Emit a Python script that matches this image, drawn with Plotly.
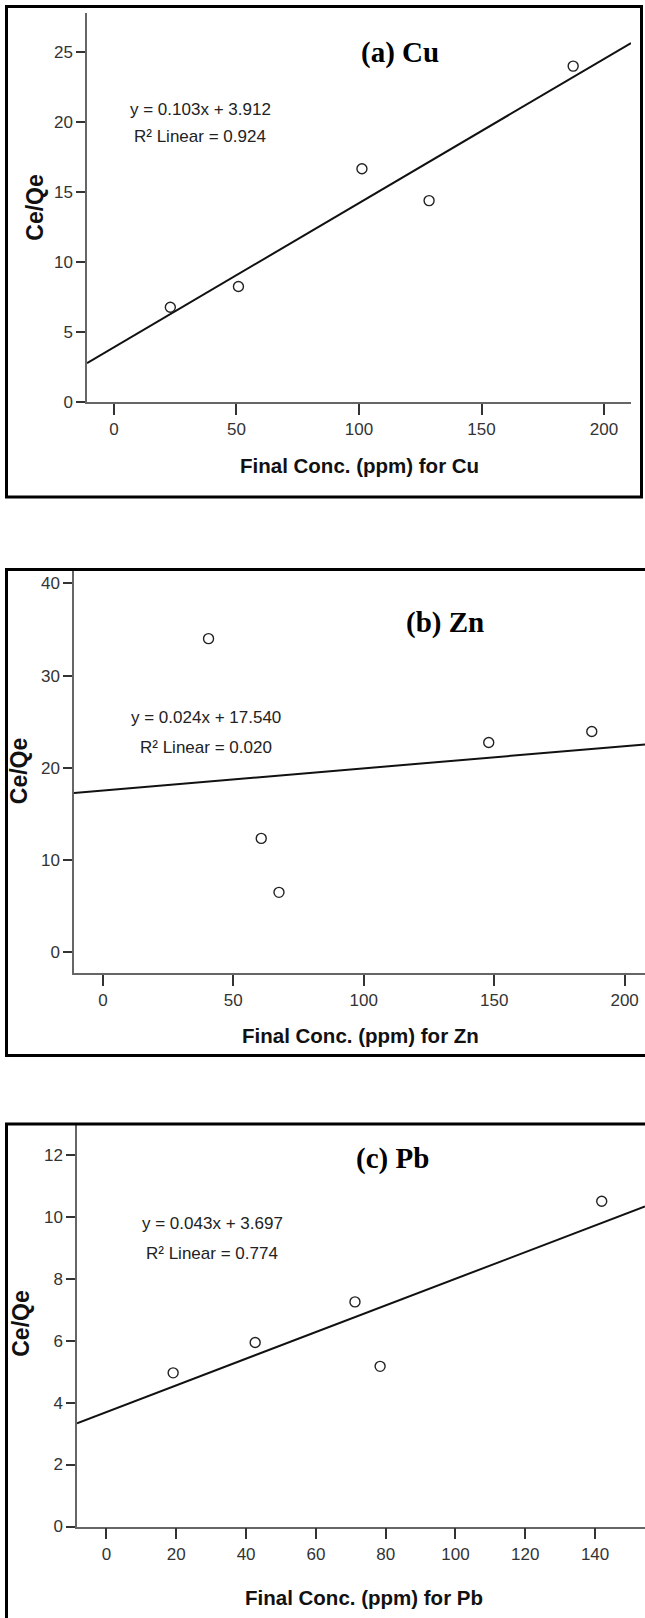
import plotly.graph_objects as go

# ---------------- data ----------------
panel_titles = ["(a) Cu", "(b) Zn", "(c) Pb"]
x_titles = ["Final Conc. (ppm) for Cu", "Final Conc. (ppm) for Zn", "Final Conc. (ppm) for Pb"]
y_title = "Ce/Qe"

cu_x = [23.0, 50.8, 101.2, 128.6, 187.4]
cu_y = [6.77, 8.25, 16.67, 14.39, 24.0]
zn_x = [40.5, 60.7, 67.5, 147.9, 187.4]
zn_y = [34.0, 12.35, 6.50, 22.74, 23.94]
pb_x = [19.1, 42.6, 71.2, 78.4, 141.9]
pb_y = [4.96, 5.94, 7.25, 5.17, 10.5]

slopes = [0.103, 0.024, 0.043]
intercepts = [3.912, 17.540, 3.697]
r2_values = ["0.924", "0.020", "0.774"]

x_ticks = [[0, 50, 100, 150, 200], [0, 50, 100, 150, 200], [0, 20, 40, 60, 80, 100, 120, 140]]
y_ticks = [[0, 5, 10, 15, 20, 25], [0, 10, 20, 30, 40], [0, 2, 4, 6, 8, 10, 12]]
x_ranges = [[-11.0, 211.0], [-11.07, 207.8], [-8.45, 154.3]]
y_ranges = [[0, 27.8], [-2.27, 41.5], [0, 12.96]]

# ---------------- layout (pixels) ----------------
W, H = 645, 1618
def px(x): return x / W
def py(y): return 1 - y / H

plot_boxes = [  # x0, x1, ytop, ybottom (pixels)
    (87, 631, 13, 404.5),
    (74, 645, 573, 979.3),
    (77, 645, 1132, 1536),
]
frames = [  # outer black frames
    (6.5, 641.5, 6.5, 500),
    (6.5, 680, 573, 1062),
    (6.5, 680, 1131, 1680),
]
title_pos = [(400, 53), (445, 626), (393, 1166)]
eq_pos = [(200, 110, 137), (206, 722, 752), (212, 1231, 1261)]
ytitle_pos = [(35, 209), (19, 776), (21, 1332)]
xtitle_pos = [(359, 468), (361, 1042), (364, 1607)]

data_x = [cu_x, zn_x, pb_x]
data_y = [cu_y, zn_y, pb_y]

tick_font = dict(family="Liberation Sans, Arial", size=17, color="#333")
eq_font = dict(family="Liberation Sans, Arial", size=17, color="#222")

fig = go.Figure()
layout = dict(width=W, height=H, margin=dict(l=0, r=0, t=0, b=0),
              paper_bgcolor="white", plot_bgcolor="white", showlegend=False,
              shapes=[], annotations=[])

for i in range(3):
    n = "" if i == 0 else str(i + 1)
    xa, ya = "x" + n, "y" + n
    x0, x1, yt, yb = plot_boxes[i]
    layout["xaxis" + n] = dict(domain=[px(x0), px(x1)], range=x_ranges[i], anchor=ya,
                               showline=True, linecolor="#666", linewidth=1.5,
                               ticks="outside", ticklen=11, tickwidth=2, tickcolor="#333",
                               tickvals=x_ticks[i], tickfont=tick_font,
                               showgrid=False, zeroline=False, fixedrange=True)
    layout["yaxis" + n] = dict(domain=[py(yb), py(yt)], range=y_ranges[i], anchor=xa,
                               showline=True, linecolor="#666", linewidth=1.5,
                               ticks="outside", ticklen=9, tickwidth=2, tickcolor="#333",
                               tickvals=y_ticks[i], tickfont=tick_font,
                               showgrid=False, zeroline=False, fixedrange=True)
    # regression line across the axis range
    lx = x_ranges[i]
    ly = [slopes[i] * v + intercepts[i] for v in lx]
    fig.add_trace(go.Scatter(x=lx, y=ly, mode="lines", xaxis=xa, yaxis=ya,
                             line=dict(color="#111", width=2), hoverinfo="skip"))
    fig.add_trace(go.Scatter(x=data_x[i], y=data_y[i], mode="markers", xaxis=xa, yaxis=ya,
                             marker=dict(symbol="circle-open", size=10, color="#222",
                                         line=dict(width=1.4, color="#222"))))
    fx0, fx1, fy0, fy1 = frames[i]
    layout["shapes"].append(dict(type="rect", xref="paper", yref="paper",
                                 x0=px(fx0), x1=px(fx1), y0=py(fy1), y1=py(fy0),
                                 line=dict(color="black", width=3), layer="above"))
    tx, ty = title_pos[i]
    layout["annotations"].append(dict(text="<b>" + panel_titles[i] + "</b>", xref="paper", yref="paper",
                                      x=px(tx), y=py(ty), xanchor="center", yanchor="middle",
                                      showarrow=False,
                                      font=dict(family="Liberation Serif, Times New Roman, serif", size=29, color="black")))
    ex, ey1, ey2 = eq_pos[i]
    eq = "y = %.3fx + %.3f" % (slopes[i], intercepts[i])
    layout["annotations"].append(dict(text=eq, xref="paper", yref="paper", x=px(ex), y=py(ey1),
                                      xanchor="center", yanchor="middle", showarrow=False, font=eq_font))
    layout["annotations"].append(dict(text="R\u00b2 Linear = " + r2_values[i], xref="paper", yref="paper",
                                      x=px(ex), y=py(ey2), xanchor="center", yanchor="middle",
                                      showarrow=False, font=eq_font))
    yx, yy = ytitle_pos[i]
    layout["annotations"].append(dict(text="<b>" + y_title + "</b>", xref="paper", yref="paper",
                                      x=px(yx), y=py(yy), xanchor="center", yanchor="middle", textangle=-90,
                                      showarrow=False,
                                      font=dict(family="Liberation Sans, Arial", size=23, color="#111")))
    xx, xy = xtitle_pos[i]
    layout["annotations"].append(dict(text="<b>" + x_titles[i] + "</b>", xref="paper", yref="paper",
                                      x=px(xx), y=py(xy), xanchor="center", yanchor="middle",
                                      showarrow=False,
                                      font=dict(family="Liberation Sans, Arial", size=20.5, color="#111")))

fig.update_layout(**layout)
fig.write_html("out.html", config={"displayModeBar": False},
               post_script="document.body.style.margin='0';document.body.style.overflow='hidden';")
